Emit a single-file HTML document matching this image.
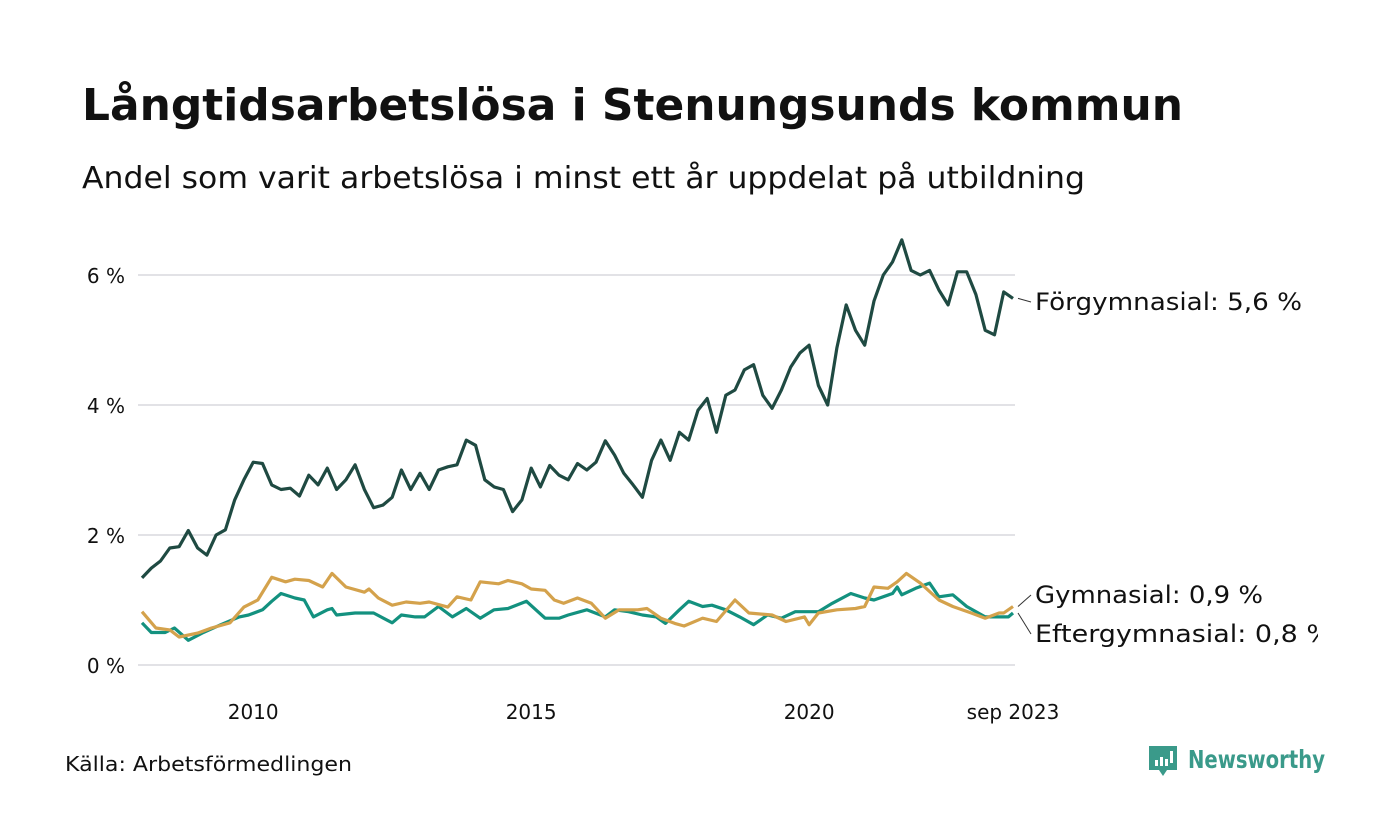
<!DOCTYPE html>
<html><head><meta charset="utf-8"><style>
html,body{margin:0;padding:0;background:#fff;width:1400px;height:840px;overflow:hidden}
body{font-family:"DejaVu Sans","Liberation Sans",sans-serif;color:#111}
svg{position:absolute;left:0;top:0}
</style></head><body>
<svg id="chart" width="1400" height="840" viewBox="0 0 1400 840">
<defs><clipPath id="clipR"><rect x="0" y="0" width="1318" height="700"/></clipPath></defs>
<rect width="1400" height="840" fill="#fff"/>
<text x="82" y="120" font-size="44" font-weight="bold" fill="#111" textLength="1101" lengthAdjust="spacingAndGlyphs">Långtidsarbetslösa i Stenungsunds kommun</text>
<text x="82" y="188" font-size="30" fill="#111" textLength="1003" lengthAdjust="spacingAndGlyphs">Andel som varit arbetslösa i minst ett år uppdelat på utbildning</text>
<g id="grid"></g>
<g id="yax"></g>
<g id="xax"></g>
<g id="lines"></g>
<g id="labels" clip-path="url(#clipR)"></g>
<text x="65" y="771" font-size="20" fill="#111" textLength="287" lengthAdjust="spacingAndGlyphs">Källa: Arbetsförmedlingen</text>
<g>
<path d="M1149 746 h28 v24 h-10 l-4 6 l-4 -6 h-10 z" fill="#3a9a8a"/>
<rect x="1155" y="760" width="3" height="6" fill="#fff"/><rect x="1160" y="757" width="3" height="9" fill="#fff"/><rect x="1165" y="759" width="3" height="7" fill="#fff"/><rect x="1170" y="751" width="3" height="12" fill="#fff"/>
<text x="1188" y="768" font-size="25" font-weight="bold" fill="#3a9a8a" textLength="137" lengthAdjust="spacingAndGlyphs">Newsworthy</text>
</g>
</svg>
<script>
const yTicks=[0,2,4,6];
const yTickLabels=["0 %","2 %","4 %","6 %"];
const xTickMonths=[24,84,144,188];
const xTickLabels=["2010","2015","2020","sep 2023"];
const forgMonths=[];for(let i=0;i<=188;i+=2)forgMonths.push(i);
const forgValues=[1.34,1.49,1.6,1.8,1.82,2.07,1.8,1.69,2.0,2.08,2.54,2.85,3.12,3.1,2.77,2.7,2.72,2.6,2.92,2.77,3.03,2.7,2.85,3.08,2.7,2.42,2.46,2.58,3.0,2.7,2.95,2.7,3.0,3.05,3.08,3.46,3.38,2.85,2.74,2.7,2.36,2.54,3.03,2.74,3.07,2.92,2.85,3.1,3.0,3.12,3.45,3.23,2.95,2.77,2.58,3.15,3.46,3.15,3.58,3.46,3.92,4.1,3.58,4.15,4.23,4.54,4.62,4.15,3.95,4.23,4.58,4.8,4.92,4.3,4.0,4.88,5.54,5.15,4.92,5.6,6.0,6.2,6.54,6.07,6.0,6.07,5.77,5.54,6.05,6.05,5.7,5.15,5.08,5.74,5.64];
const gymMonths=[0,3,6,8,12,15,19,22,25,28,31,33,36,39,41,44,48,49,51,54,57,60,62,66,68,71,73,77,79,82,84,87,89,91,94,97,100,103,107,109,112,115,117,121,124,128,131,136,139,143,144,146,150,154,156,158,161,163,165,168,172,175,179,182,185,186,188];
const gymValues=[0.82,0.57,0.54,0.43,0.49,0.57,0.65,0.89,1.0,1.35,1.28,1.32,1.3,1.2,1.41,1.2,1.12,1.17,1.03,0.92,0.97,0.95,0.97,0.89,1.05,1.0,1.28,1.25,1.3,1.25,1.17,1.15,1.0,0.95,1.03,0.95,0.72,0.85,0.85,0.87,0.72,0.64,0.6,0.72,0.67,1.0,0.8,0.77,0.67,0.74,0.62,0.8,0.85,0.87,0.9,1.2,1.18,1.28,1.41,1.26,1.0,0.9,0.8,0.72,0.8,0.8,0.9];
const eftMonths=[0,2,5,7,10,13,17,21,23,26,28,30,33,35,37,40,41,42,46,50,54,56,59,61,64,67,70,73,76,79,83,87,90,92,96,100,102,105,108,111,113,116,118,121,123,126,129,132,135,138,141,146,149,153,156,158,162,163,164,167,170,172,175,178,182,185,187,188];
const eftValues=[0.65,0.5,0.5,0.57,0.38,0.49,0.62,0.74,0.77,0.85,0.98,1.1,1.03,1.0,0.74,0.85,0.87,0.77,0.8,0.8,0.65,0.77,0.74,0.74,0.9,0.74,0.87,0.72,0.85,0.87,0.98,0.72,0.72,0.77,0.85,0.74,0.85,0.82,0.77,0.74,0.64,0.85,0.98,0.9,0.92,0.85,0.74,0.62,0.77,0.72,0.82,0.82,0.95,1.1,1.03,1.0,1.1,1.2,1.08,1.18,1.26,1.05,1.08,0.9,0.74,0.74,0.74,0.8];
const NS="http://www.w3.org/2000/svg";
const X=m=>142+m*(1013-142)/188;
const Y=v=>665-v*65;
function mk(tag,attrs,parent,txt){const e=document.createElementNS(NS,tag);for(const k in attrs)e.setAttribute(k,attrs[k]);if(txt!==undefined)e.textContent=txt;parent.appendChild(e);return e;}
const grid=document.getElementById('grid'),yax=document.getElementById('yax'),xax=document.getElementById('xax'),lines=document.getElementById('lines'),labels=document.getElementById('labels');
yTicks.forEach((t,i)=>{
 const g=mk('line',{x1:138,x2:1015,y1:Y(t),y2:Y(t),stroke:'#e2e2e6','stroke-width':2},grid);
 
 
 const l=mk('text',{x:125,y:Y(t)+8,'font-size':20,'text-anchor':'end',fill:'#111'},yax,yTickLabels[i]);
 
 
});
xTickMonths.forEach((m,i)=>{
 const l=mk('text',{x:X(m),y:719,'font-size':20,'text-anchor':'middle',fill:'#111'},xax,xTickLabels[i]);
 
 
});
function line(ms,vs,color,name){
 const d=ms.map((m,i)=>(i?'L':'M')+X(m).toFixed(1)+' '+Y(vs[i]).toFixed(1)).join(' ');
 const p=mk('path',{d:d,fill:'none',stroke:color,'stroke-width':3.2,'stroke-linejoin':'round'},lines);
 
 
}
line(eftMonths,eftValues,'#13917f','line-eftergymnasial');
line(gymMonths,gymValues,'#d4a24c','line-gymnasial');
line(forgMonths,forgValues,'#1f4a42','line-forgymnasial');
function lab(v,ty,txt,len,name){
 const ly=Y(v);
 const c=mk('line',{x1:1018,y1:ly,x2:1031,y2:ty-8,stroke:'#333','stroke-width':1},labels);
 
 
 const t=mk('text',{x:1035,y:ty,'font-size':24,fill:'#111',textLength:len,lengthAdjust:'spacingAndGlyphs'},labels,txt);
 
 
}
lab(forgValues[forgValues.length-1],310,'Förgymnasial: 5,6 %',267,'label-forgymnasial');
lab(gymValues[gymValues.length-1],603,'Gymnasial: 0,9 %',228,'label-gymnasial');
lab(eftValues[eftValues.length-1],642,'Eftergymnasial: 0,8 %',297,'label-eftergymnasial');
</script>
</body></html>
